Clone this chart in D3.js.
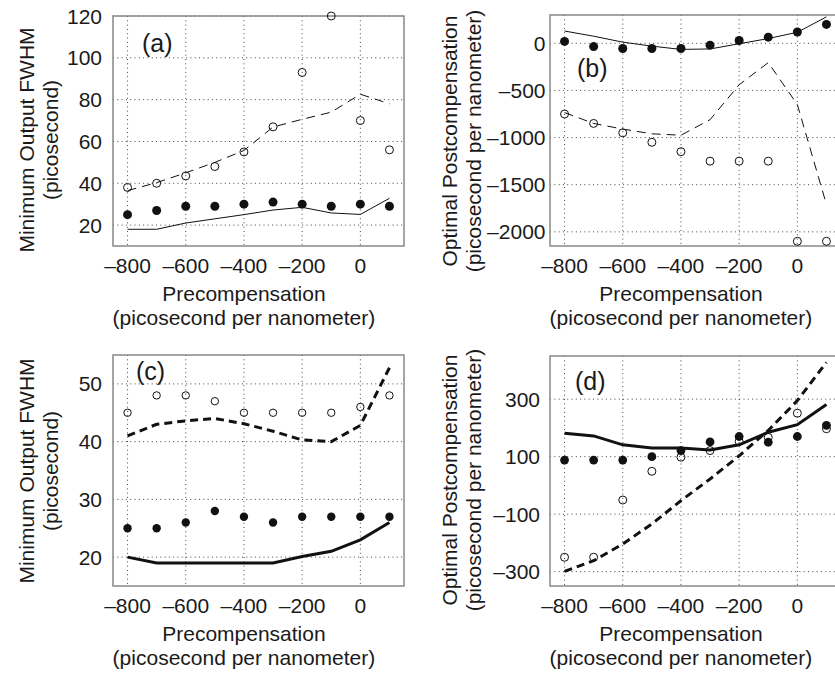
<!DOCTYPE html>
<html>
<head>
<meta charset="utf-8">
<script src="https://cdn.jsdelivr.net/npm/d3@7"></script>
<style>
  body { margin: 0; background: #fff; }
  text { font-family: "Liberation Sans", Arial, Helvetica, sans-serif; fill: #1a1a1a; }
</style>
</head>
<body>
<svg id="fig" width="835" height="676"></svg>
<script>
// precompensation values (ps/nm), shared by all panels
let precomp = [-800, -700, -600, -500, -400, -300, -200, -100, 0, 100];
let xTicks = [-800, -600, -400, -200, 0];

// (a) minimum output FWHM, ps
let aFilled = [25, 27, 29, 29, 30, 31, 30, 29, 30, 29];
let aOpen = [38, 40, 43.5, 48, 55, 67, 93, 120, 70, 56];
let aSolid = [18, 18, 21, 23, 25, 27.2, 28.5, 25.8, 25.1, 32.8];
let aDashed = [36.5, 40.3, 45, 50, 55.7, 66.9, 70.6, 74, 82.6, 78];
let aTicks = [20, 40, 60, 80, 100, 120];

// (b) optimal postcompensation, ps/nm
let bFilled = [20, -35, -55, -55, -55, -20, 30, 65, 120, 200];
let bOpen = [-750, -850, -950, -1050, -1150, -1250, -1250, -1250, -2100, -2100];
let bSolid = [130, 75, 12, -30, -65, -60, -5, 50, 117, 280];
let bDashed = [-735, -850, -910, -960, -975, -810, -440, -205, -650, -1710];
let bTicks = [-2000, -1500, -1000, -500, 0];

// (c) minimum output FWHM, ps
let cFilled = [25, 25, 26, 28, 27, 26, 27, 27, 27, 27];
let cOpen = [45, 48, 48, 47, 45, 45, 45, 45, 46, 48];
let cSolid = [20, 19, 19, 19, 19, 19, 20.1, 21, 23, 26];
let cDashed = [41, 43, 43.6, 44, 43.1, 41.8, 40.3, 40, 42.8, 52.8];
let cTicks = [20, 30, 40, 50];

// (d) optimal postcompensation, ps/nm
let dFilled = [88, 88, 88, 100, 121, 151, 170, 150, 170, 209];
let dOpen = [-250, -250, -51, 49, 98, 121, 153, 167, 251, 197];
let dSolid = [181, 172, 141, 130, 130, 123, 141, 185, 211, 281];
let dDashed = [-299, -262, -204, -134, -53, 22, 103, 191, 295, 428];
let dTicks = [-300, -100, 100, 300];

let svg = d3.select('#fig');
let fmt = d => d < 0 ? '\u2013' + Math.abs(d) : String(d);

function panel(p) {
	let x = d3.scaleLinear().domain([-850, 150]).range([p.left, p.left + 291]);
	let y = d3.scaleLinear().domain(p.yDomain).range([p.bottom, p.top]);
	let g = svg.append('g');

	// dotted grid
	g.selectAll('.gx').data(xTicks).enter().append('line')
		.attr('x1', d => x(d)).attr('x2', d => x(d))
		.attr('y1', p.top).attr('y2', p.bottom)
		.attr('stroke', '#444').attr('stroke-width', 1).attr('stroke-dasharray', '1,3.3');
	g.selectAll('.gy').data(p.yTicks).enter().append('line')
		.attr('x1', p.left).attr('x2', p.left + 291)
		.attr('y1', d => y(d)).attr('y2', d => y(d))
		.attr('stroke', '#444').attr('stroke-width', 1).attr('stroke-dasharray', '1,3.3');

	// box
	g.append('rect')
		.attr('x', p.left).attr('y', p.top)
		.attr('width', 291).attr('height', p.bottom - p.top)
		.attr('fill', 'none').attr('stroke', '#888').attr('stroke-width', 1.5);

	// tick labels
	g.selectAll('.tx').data(xTicks).enter().append('text')
		.attr('x', d => x(d)).attr('y', p.bottom + 27)
		.attr('text-anchor', 'middle').attr('font-size', 21)
		.text(fmt);
	g.selectAll('.ty').data(p.yTicks).enter().append('text')
		.attr('x', p.left - p.tickGap).attr('y', d => y(d)).attr('dy', '0.36em')
		.attr('text-anchor', 'end').attr('font-size', 21)
		.text(fmt);

	// lines
	let line = d3.line().x((d, i) => x(precomp[i])).y(d => y(d));
	g.append('path').datum(p.solid)
		.attr('d', line).attr('fill', 'none')
		.attr('stroke', '#111').attr('stroke-width', p.lw);
	g.append('path').datum(p.dashed)
		.attr('d', line).attr('fill', 'none')
		.attr('stroke', '#111').attr('stroke-width', p.lw)
		.attr('stroke-dasharray', p.dash);

	// markers
	g.selectAll('.op').data(p.open).enter().append('circle')
		.attr('cx', (d, i) => x(precomp[i])).attr('cy', d => y(d))
		.attr('r', p.ro).attr('fill', 'none').attr('stroke', '#111').attr('stroke-width', 1);
	g.selectAll('.fi').data(p.filled).enter().append('circle')
		.attr('cx', (d, i) => x(precomp[i])).attr('cy', d => y(d))
		.attr('r', p.rf).attr('fill', '#111');

	// panel label
	g.append('text').attr('x', p.tagX).attr('y', p.tagY)
		.attr('font-size', 25).text(p.tag);

	// axis titles
	let xc = x(-400);
	g.append('text').attr('x', xc).attr('y', p.bottom + 55)
		.attr('text-anchor', 'middle').attr('font-size', 21).text('Precompensation');
	g.append('text').attr('x', xc).attr('y', p.bottom + 79)
		.attr('text-anchor', 'middle').attr('font-size', 21).text('(picosecond per nanometer)');
	p.yTitle.forEach((t, i) => {
		g.append('text')
			.attr('transform', 'translate(' + (p.yTitleX + i * 24) + ',' + p.yTitleY + ') rotate(-90)')
			.attr('text-anchor', 'middle').attr('font-size', 21).text(t);
	});
}

panel({ left: 113, top: 16, bottom: 246, yDomain: [10, 120], yTicks: aTicks, tickGap: 11,
	filled: aFilled, open: aOpen, solid: aSolid, dashed: aDashed,
	lw: 1, dash: '9,6', rf: 4.5, ro: 4, tag: '(a)', tagX: 142, tagY: 52,
	yTitle: ['Minimum Output FWHM', '(picosecond)'], yTitleX: 34, yTitleY: 140 });

panel({ left: 550, top: 15, bottom: 246, yDomain: [-2150, 300], yTicks: bTicks, tickGap: 4.5,
	filled: bFilled, open: bOpen, solid: bSolid, dashed: bDashed,
	lw: 1, dash: '9,6', rf: 4.5, ro: 4, tag: '(b)', tagX: 577, tagY: 77,
	yTitle: ['Optimal Postcompensation', '(picosecond per nanometer)'], yTitleX: 457, yTitleY: 141 });

panel({ left: 113, top: 355, bottom: 586, yDomain: [15, 55], yTicks: cTicks, tickGap: 11,
	filled: cFilled, open: cOpen, solid: cSolid, dashed: cDashed,
	lw: 3, dash: '8,5', rf: 4.2, ro: 3.7, tag: '(c)', tagX: 136, tagY: 380,
	yTitle: ['Minimum Output FWHM', '(picosecond)'], yTitleX: 34, yTitleY: 471 });

panel({ left: 550, top: 356, bottom: 586, yDomain: [-350, 450], yTicks: dTicks, tickGap: 10,
	filled: dFilled, open: dOpen, solid: dSolid, dashed: dDashed,
	lw: 3, dash: '8,5', rf: 4.4, ro: 4, tag: '(d)', tagX: 575, tagY: 390,
	yTitle: ['Optimal Postcompensation', '(picosecond per nanometer)'], yTitleX: 457, yTitleY: 480 });
</script>
</body>
</html>
